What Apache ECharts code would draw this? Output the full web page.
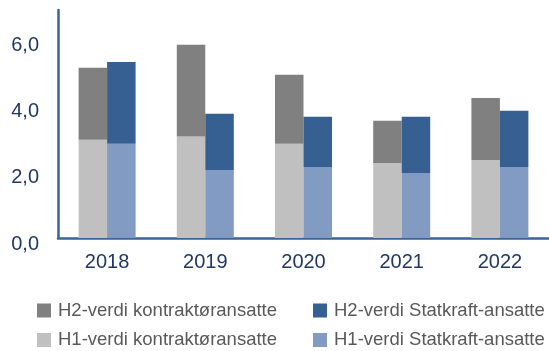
<!DOCTYPE html>
<html>
<head>
<meta charset="utf-8">
<script src="https://cdn.jsdelivr.net/npm/echarts@6/dist/echarts.min.js"></script>
<style>
  html, body { margin: 0; padding: 0; background: #ffffff; }
  #chart { width: 549px; height: 351px; }
</style>
</head>
<body>
<div id="chart"></div>
<script>
// Years on the category axis
const years = ['2018', '2019', '2020', '2021', '2022'];

// Contractor employees (kontraktøransatte)
const h1Contractor = [2.97, 3.07, 2.85, 2.27, 2.36];
const h2Contractor = [2.18, 2.78, 2.09, 1.28, 1.88];

// Statkraft employees
const h1Statkraft = [2.85, 2.06, 2.15, 1.97, 2.15];
const h2Statkraft = [2.48, 1.70, 1.52, 1.70, 1.70];

const names = {
  h2c: 'H2-verdi kontraktøransatte',
  h2s: 'H2-verdi Statkraft-ansatte',
  h1c: 'H1-verdi kontraktøransatte',
  h1s: 'H1-verdi Statkraft-ansatte'
};

const FONT = '"Liberation Sans", Arial, sans-serif';
const AXIS_BLUE = '#3b6497';
const LABEL_NAVY = '#203864';

const chart = echarts.init(document.getElementById('chart'), null, { renderer: 'canvas' });

const legendText = {
  color: '#595959',
  fontFamily: FONT,
  fontSize: 18.5,
  lineHeight: 18,
  padding: [0, 0, 0, 2]
};

function bar(name, data, stack, color) {
  return {
    name: name,
    type: 'bar',
    stack: stack,
    data: data,
    barWidth: 28.5,
    barGap: '0%',
    itemStyle: { color: color },
    emphasis: { disabled: true }
  };
}

chart.setOption({
  animation: false,
  grid: { left: 58, right: -4, top: 10, bottom: 113 },
  legend: [
    {
      orient: 'vertical',
      left: 37,
      top: 301,
      padding: 0,
      itemWidth: 14,
      itemHeight: 14,
      itemGap: 10.5,
      icon: 'rect',
      data: [names.h2c, names.h1c],
      textStyle: legendText
    },
    {
      orient: 'vertical',
      left: 313,
      top: 301,
      padding: 0,
      itemWidth: 14,
      itemHeight: 14,
      itemGap: 10.5,
      icon: 'rect',
      data: [names.h2s, names.h1s],
      textStyle: legendText
    }
  ],
  xAxis: {
    type: 'category',
    data: years,
    axisLine: { show: true, lineStyle: { color: AXIS_BLUE, width: 2.5 } },
    axisTick: { show: false },
    axisLabel: {
      color: LABEL_NAVY,
      fontFamily: FONT,
      fontSize: 20,
      margin: 14
    }
  },
  yAxis: {
    type: 'value',
    min: 0,
    max: 6.9,
    interval: 2,
    axisLine: { show: true, lineStyle: { color: AXIS_BLUE, width: 2.5 } },
    axisTick: { show: false },
    splitLine: { show: false },
    axisLabel: {
      showMaxLabel: false,
      color: LABEL_NAVY,
      fontFamily: FONT,
      fontSize: 20,
      margin: 19,
      verticalAlign: 'top',
      lineHeight: 12,
      formatter: function (v) { return v.toFixed(1).replace('.', ','); }
    }
  },
  series: [
    bar(names.h1c, h1Contractor, 'contractor', '#c0c0c0'),
    bar(names.h2c, h2Contractor, 'contractor', '#808080'),
    bar(names.h1s, h1Statkraft, 'statkraft', '#829bc3'),
    bar(names.h2s, h2Statkraft, 'statkraft', '#356091')
  ]
});
</script>
</body>
</html>
